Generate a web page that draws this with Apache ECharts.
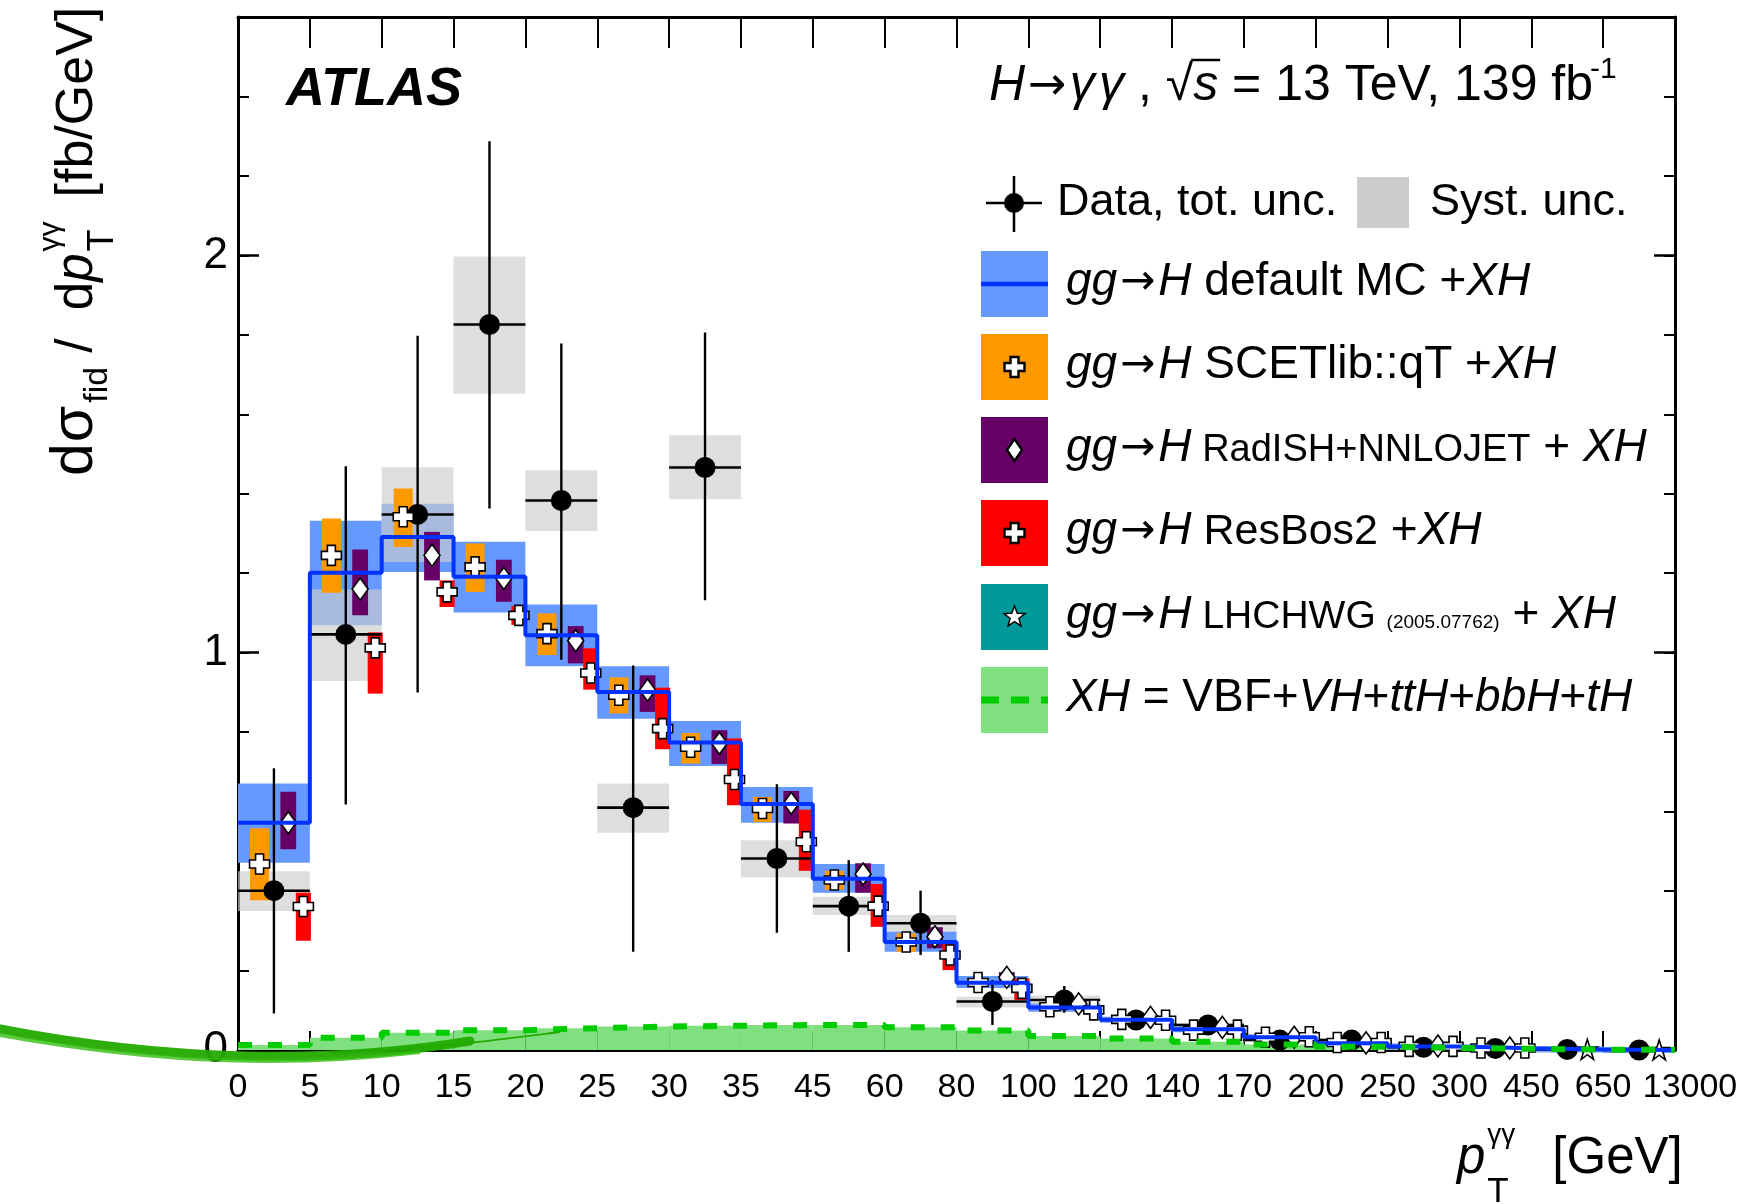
<!DOCTYPE html>
<html><head><meta charset="utf-8">
<script src="https://cdn.jsdelivr.net/npm/echarts@6/dist/echarts.min.js"></script>
<style>html,body{margin:0;padding:0;background:#fff}#c{width:1751px;height:1204px}</style>
</head><body><div id="c"></div>
<script>
// ---------------- data ----------------
const binEdges = ['0','5','10','15','20','25','30','35','45','60','80','100','120','140','170','200','250','300','450','650','13000'];

const dataVal   = [0.401, 1.046, 1.348, 1.826, 1.383, 0.610, 1.466, 0.482, 0.362, 0.319, 0.122, 0.126, 0.0755, 0.063, 0.025, 0.025, 0.007, 0.004, 0.0015, 0.0001];
const dataTotLo = [0.092, 0.618, 0.900, 1.363, 0.982, 0.247, 1.132, 0.295, 0.247, 0.239, 0.063, 0.094, 0.052, 0.045, 0.012, 0.013, 0.002, 0.001, 0.0004, 0.00002];
const dataTotHi = [0.709, 1.469, 1.798, 2.287, 1.778, 0.968, 1.806, 0.669, 0.478, 0.401, 0.176, 0.161, 0.099, 0.083, 0.038, 0.037, 0.012, 0.007, 0.0026, 0.0002];
const systLo    = [0.350, 0.929, 1.228, 1.652, 1.306, 0.547, 1.386, 0.434, 0.340, 0.298, 0.107, 0.115, 0.070, 0.058, 0.022, 0.022, 0.006, 0.0035, 0.0013, 0.0001];
const systHi    = [0.450, 1.159, 1.467, 1.997, 1.459, 0.671, 1.547, 0.528, 0.386, 0.340, 0.134, 0.137, 0.081, 0.068, 0.028, 0.028, 0.008, 0.0045, 0.0017, 0.0001];

const defaultMC   = [0.572, 1.201, 1.291, 1.191, 1.044, 0.901, 0.774, 0.619, 0.431, 0.272, 0.169, 0.107, 0.076, 0.052, 0.032, 0.017, 0.009, 0.0045, 0.0015, 0.0003];
const defaultLo   = [0.471, 1.069, 1.203, 1.101, 0.966, 0.834, 0.715, 0.572, 0.396, 0.247, 0.156, 0.096, 0.069, 0.047, 0.029, 0.015, 0.008, 0.004, 0.0013, 0.0002];
const defaultHi   = [0.671, 1.332, 1.375, 1.279, 1.121, 0.966, 0.828, 0.662, 0.468, 0.298, 0.186, 0.118, 0.083, 0.057, 0.035, 0.019, 0.010, 0.005, 0.0017, 0.0004];

const scetCen = [0.468, 1.245, 1.342, 1.216, 1.048, 0.893, 0.762, 0.608, 0.428, 0.272, 0.170, 0.109, 0.077, 0.050, 0.032, 0.019, 0.009, 0.005, null, null];
const scetLo  = [0.377, 1.151, 1.266, 1.153, 0.994, 0.847, 0.721, 0.574, 0.403, 0.247, 0.160, 0.102, 0.072, 0.047, 0.030, 0.018, 0.0085, 0.0047, null, null];
const scetHi  = [0.558, 1.338, 1.413, 1.275, 1.099, 0.938, 0.798, 0.637, 0.451, 0.294, 0.180, 0.116, 0.082, 0.053, 0.034, 0.020, 0.0095, 0.0053, null, null];

const radishCen = [0.572, 1.160, 1.245, 1.187, 1.030, 0.906, 0.772, 0.621, 0.443, 0.285, 0.183, 0.116, 0.082, 0.057, 0.032, 0.018, 0.010, 0.005, null, null];
const radishLo  = [0.505, 1.094, 1.182, 1.128, 0.973, 0.851, 0.720, 0.570, 0.396, 0.256, 0.170, 0.108, 0.076, 0.053, 0.030, 0.017, 0.009, 0.0045, null, null];
const radishHi  = [0.650, 1.260, 1.304, 1.234, 1.067, 0.943, 0.805, 0.652, 0.470, 0.309, 0.196, 0.124, 0.088, 0.061, 0.034, 0.019, 0.011, 0.0055, null, null];

const resbosCen = [0.361, 1.012, 1.153, 1.094, 0.949, 0.809, 0.681, 0.524, 0.362, 0.239, 0.155, 0.101, 0.075, 0.050, 0.0335, 0.019, 0.009, 0.005, null, null];
const resbosLo  = [0.275, 0.897, 1.115, 1.070, 0.907, 0.757, 0.616, 0.451, 0.310, 0.201, 0.126, 0.092, 0.068, 0.045, 0.030, 0.017, 0.008, 0.0045, null, null];
const resbosHi  = [0.396, 1.051, 1.182, 1.118, 1.011, 0.912, 0.784, 0.605, 0.418, 0.272, 0.180, 0.110, 0.082, 0.055, 0.037, 0.021, 0.010, 0.0055, null, null];

const lhchwgCen = [null, null, null, null, null, null, null, null, null, null, null, null, null, null, null, null, null, null, 0.0015, 0.0002];
const lhchwgLo  = [null, null, null, null, null, null, null, null, null, null, null, null, null, null, null, null, null, null, 0.0013, 0.0001];
const lhchwgHi  = [null, null, null, null, null, null, null, null, null, null, null, null, null, null, null, null, null, null, 0.0017, 0.0003];

const xhVal = [0.0126, 0.031, 0.0436, 0.050, 0.055, 0.059, 0.061, 0.063, 0.063, 0.057, 0.049, 0.035, 0.029, 0.021, 0.014, 0.008, 0.005, 0.003, 0.001, 0.0002];

// ---------------- styling helpers ----------------
const FF = "'Liberation Sans', Arial, Helvetica, sans-serif";
const FA = "'DejaVu Sans', sans-serif";
const C_BAND = '#6699ff', C_LINE = '#0033ff', C_ORA = '#ff9900', C_PUR = '#660066',
      C_RED = '#ff0000', C_TEAL = '#009999', C_GFILL = '#80e080', C_GLINE = '#00cc00';
const CROSS = 'path://M-2,-5L2,-5L2,-2L5,-2L5,2L2,2L2,5L-2,5L-2,2L-5,2L-5,-2L-2,-2Z';
const DIAM = 'path://M0,-1L0.7,0L0,1L-0.7,0Z';
const STAR = 'path://M0,-1L0.2245,-0.309L0.951,-0.309L0.363,0.118L0.588,0.809L0,0.382L-0.588,0.809L-0.363,0.118L-0.951,-0.309L-0.2245,-0.309Z';

function triples(lo, hi) {
  const out = [];
  lo.forEach((l, i) => { if (l != null && hi[i] != null) out.push([i, l, hi[i]]); });
  return out;
}
function boxSeries(name, lo, hi, off, w, color, minH) {
  return {
    type: 'custom', name, silent: true, data: triples(lo, hi), encode: { x: 0, y: [1, 2] },
    renderItem(params, api) {
      const i = api.value(0), l = api.value(1), h = api.value(2);
      const a = api.coord([i + off - w / 2, h]), b = api.coord([i + off + w / 2, l]);
      let top = a[1], hh = b[1] - a[1];
      const mh = minH || 0;
      if (hh < mh) { const m = (a[1] + b[1]) / 2; top = m - mh / 2; hh = mh; }
      return { type: 'rect', shape: { x: a[0], y: top, width: b[0] - a[0], height: hh }, style: { fill: color } };
    }
  };
}
function markerSeries(name, cen, off, symbol, size) {
  const d = [];
  cen.forEach((v, i) => { if (v != null) d.push([i + off, v]); });
  return {
    type: 'scatter', name, silent: true, data: d, symbol, symbolSize: size,
    itemStyle: { color: '#ffffff', borderColor: '#000', borderWidth: 1.6, opacity: 1 }
  };
}
function stepData(vals) {
  const d = [];
  vals.forEach((v, i) => { d.push([i, v]); d.push([i + 1, v]); });
  return d;
}

// ---------------- text layout helpers ----------------
const mctx = document.createElement('canvas').getContext('2d');
function fnt(p) { return (p.it ? 'italic ' : '') + (p.b ? 'bold ' : '') + p.s + 'px ' + (p.f || FF); }
function run(pieces) {
  let x = 0; const ch = [];
  for (const p of pieces) {
    mctx.font = fnt(p); mctx.textBaseline = 'middle';
    const w = mctx.measureText(p.t).width;
    mctx.font = (p.s) + 'px ' + FF;
    const off = mctx.measureText('H').actualBoundingBoxDescent;
    const xx = x + (p.dx || 0);
    ch.push({ type: 'text', x: xx, y: (p.dy || 0) - off, silent: true,
      style: { text: p.t, font: fnt(p), fill: '#000', textAlign: 'left', verticalAlign: 'middle', textVerticalAlign: 'middle' } });
    if (p.over) {
      const capTop = (p.dy || 0) - p.s * 0.8;
      ch.push({ type: 'line', silent: true, shape: { x1: xx - 2, y1: capTop, x2: xx + w + 2, y2: capTop }, style: { stroke: '#000', lineWidth: 2.5 } });
    }
    if (!p.noadv) x = xx + w;
  }
  return ch;
}
function textGroup(pieces, x, y, rot) {
  return { type: 'group', x, y, rotation: rot || 0, silent: true, children: run(pieces) };
}
function crossPts(cx, cy, s) {
  const h = s / 2, a = s * 0.2;
  return [[-a,-h],[a,-h],[a,-a],[h,-a],[h,a],[a,a],[a,h],[-a,h],[-a,a],[-h,a],[-h,-a],[-a,-a]].map(p => [cx + p[0], cy + p[1]]);
}
function diamPts(cx, cy, w, h) { return [[cx, cy - h / 2], [cx + w / 2, cy], [cx, cy + h / 2], [cx - w / 2, cy]]; }
function starPts(cx, cy, r) {
  const pts = [];
  for (let k = 0; k < 10; k++) {
    const ang = -Math.PI / 2 + k * Math.PI / 5, rr = k % 2 ? r * 0.42 : r;
    pts.push([cx + rr * Math.cos(ang), cy + rr * Math.sin(ang)]);
  }
  return pts;
}
const mk = { fill: '#fff', stroke: '#000', lineWidth: 2.4 };

// ---------------- legend & labels (graphic) ----------------
const G = [];
G.push(textGroup([{ t: 'ATLAS', it: 1, b: 1, s: 54 }], 286, 105));
G.push(textGroup([
  { t: 'H', it: 1, s: 50 }, { t: '\u2192', s: 46, f: FA, dx: 3 }, { t: '\u03b3', it: 1, s: 50, dx: 3 }, { t: ' ', s: 16 }, { t: '\u03b3', it: 1, s: 50 },
  { t: ' , ', s: 50 }, { t: '\u221a', s: 50 }, { t: 's', it: 1, s: 50, over: 1 }, { t: ' = 13 TeV, 139 fb', s: 50 },
  { t: '-1', s: 30, dy: -22, dx: -3 }
], 989, 100));
// data legend
const LX = 1014;
G.push({ type: 'line', silent: true, shape: { x1: LX, y1: 176, x2: LX, y2: 232 }, style: { stroke: '#000', lineWidth: 2.5 } });
G.push({ type: 'line', silent: true, shape: { x1: 986, y1: 203, x2: 1042, y2: 203 }, style: { stroke: '#000', lineWidth: 2.5 } });
G.push({ type: 'circle', silent: true, shape: { cx: LX, cy: 203, r: 10 }, style: { fill: '#000' } });
G.push(textGroup([{ t: 'Data, tot. unc.', s: 45 }], 1057, 215));
G.push({ type: 'rect', silent: true, shape: { x: 1357, y: 177, width: 52, height: 51 }, style: { fill: '#cccccc' } });
G.push(textGroup([{ t: 'Syst. unc.', s: 45 }], 1430, 215));

const rowTop = [251, 334, 417, 500, 584, 667];
const rowColors = [C_BAND, C_ORA, C_PUR, C_RED, C_TEAL, C_GFILL];
rowTop.forEach((y, k) => {
  G.push({ type: 'rect', silent: true, shape: { x: 981, y, width: 67, height: 66 }, style: { fill: rowColors[k] } });
});
const rc = rowTop.map(y => y + 33);
G.push({ type: 'line', silent: true, shape: { x1: 981, y1: rc[0], x2: 1048, y2: rc[0] }, style: { stroke: C_LINE, lineWidth: 4.5 } });
G.push({ type: 'polygon', silent: true, shape: { points: crossPts(1014.5, rc[1], 20) }, style: mk });
G.push({ type: 'polygon', silent: true, shape: { points: diamPts(1014.5, rc[2], 15, 22) }, style: mk });
G.push({ type: 'polygon', silent: true, shape: { points: crossPts(1014.5, rc[3], 20) }, style: mk });
G.push({ type: 'polygon', silent: true, shape: { points: starPts(1014.5, rc[4], 11) }, style: { fill: '#fff', stroke: '#000', lineWidth: 1.5 } });
G.push({ type: 'line', silent: true, shape: { x1: 981, y1: rc[5], x2: 1048, y2: rc[5] }, style: { stroke: C_GLINE, lineWidth: 7, lineDash: [18, 12] } });

const TX = 1066, IT = 46;
const gg = [{ t: 'gg', it: 1, s: IT }, { t: '\u2192', s: 42, f: FA, dx: 3 }, { t: 'H', it: 1, s: IT, dx: 3 }];
G.push(textGroup(gg.concat([{ t: ' default MC +', s: IT }, { t: 'XH', it: 1, s: IT }]), TX, rc[0] + 11));
G.push(textGroup(gg.concat([{ t: ' SCETlib::qT +', s: IT }, { t: 'XH', it: 1, s: IT }]), TX, rc[1] + 11));
G.push(textGroup(gg.concat([{ t: ' RadISH+NNLOJET', s: 38 }, { t: ' + ', s: IT }, { t: 'XH', it: 1, s: IT }]), TX, rc[2] + 11));
G.push(textGroup(gg.concat([{ t: ' ResBos2', s: 43 }, { t: ' +', s: IT }, { t: 'XH', it: 1, s: IT }]), TX, rc[3] + 11));
G.push(textGroup(gg.concat([{ t: ' LHCHWG ', s: 39 }, { t: '(2005.07762)', s: 19 }, { t: ' + ', s: IT }, { t: 'XH', it: 1, s: IT }]), TX, rc[4] + 11));
G.push(textGroup([{ t: 'XH', it: 1, s: IT }, { t: ' = VBF+', s: IT }, { t: 'VH', it: 1, s: IT }, { t: '+', s: IT },
  { t: 'ttH', it: 1, s: IT }, { t: '+', s: IT }, { t: 'bbH', it: 1, s: IT }, { t: '+', s: IT }, { t: 'tH', it: 1, s: IT }], TX, rc[5] + 11));

// x axis title
G.push(textGroup([{ t: 'p', it: 1, s: 51 }, { t: 'T', s: 35, dy: 29, dx: 2, noadv: 1 }, { t: '\u03b3\u03b3', s: 28, dy: -30, dx: 2 }, { t: '[GeV]', s: 51, dx: 37 }], 1457, 1173));
// y axis title (rotated)
G.push(textGroup([{ t: 'd', s: 59 }, { t: '\u03c3', s: 59, dx: 1 }, { t: 'fid', s: 34, dy: 15, dx: 3 }, { t: ' /  d', s: 51 }, { t: 'p', it: 1, s: 51 },
  { t: 'T', s: 36, dy: 21, dx: 2, noadv: 1 }, { t: '\u03b3\u03b3', s: 30, dy: -33, dx: 2 }, { t: '[fb/GeV]', s: 52, dx: 24 }], 92, 476, Math.PI / 2));

// green brush stroke artifact at bottom-left
G.push({ type: 'bezierCurve', silent: true, z: 100, shape: { x1: 0, y1: 1029, cpx1: 170, cpy1: 1062, cpx2: 330, cpy2: 1064, x2: 470, y2: 1041 },
  style: { stroke: '#22aa00', lineWidth: 9, fill: null, lineCap: 'round', opacity: 0.95 } });
G.push({ type: 'bezierCurve', silent: true, z: 100, shape: { x1: 0, y1: 1035, cpx1: 170, cpy1: 1066, cpx2: 300, cpy2: 1066, x2: 420, y2: 1052 },
  style: { stroke: '#33bb11', lineWidth: 4, fill: null, opacity: 0.8 } });
G.push({ type: 'bezierCurve', silent: true, z: 100, shape: { x1: 330, y1: 1053, cpx1: 420, cpy1: 1050, cpx2: 480, cpy2: 1042, x2: 560, y2: 1032 },
  style: { stroke: '#22aa00', lineWidth: 2, fill: null } });

// ---------------- axes ----------------
const axLine = { show: true, onZero: false, lineStyle: { color: '#000', width: 3 } };
const xTickLabel = v => {
  if (Math.abs(v - Math.round(v)) > 1e-6) return '';
  const k = Math.round(v);
  return k === binEdges.length - 1 ? '{r|' + binEdges[k] + '}' : binEdges[k];
};
const yLab = v => (Math.abs(v - Math.round(v)) < 1e-6 ? String(Math.round(v)) : '');

const option = {
  animation: false,
  backgroundColor: '#ffffff',
  grid: { left: 238, right: 76, top: 17, bottom: 154, containLabel: false },
  xAxis: [
    { type: 'value', min: 0, max: 20, interval: 1, position: 'bottom', axisLine: axLine,
      axisTick: { show: true, inside: true, length: 19, lineStyle: { color: '#000', width: 2 } },
      axisLabel: { formatter: xTickLabel, fontSize: 34, color: '#000', fontFamily: FF, margin: 21,
        rich: { r: { fontSize: 34, color: '#000', fontFamily: FF, padding: [0, 0, 0, 30] } } },
      splitLine: { show: false } },
    { type: 'value', min: 0, max: 20, interval: 1, position: 'top', axisLine: axLine,
      axisTick: { show: true, inside: true, length: 31, lineStyle: { color: '#000', width: 2 } },
      axisLabel: { show: false }, splitLine: { show: false } }
  ],
  yAxis: [
    { type: 'value', min: 0, max: 2.6, interval: 1, position: 'left', axisLine: axLine,
      axisTick: { show: true, inside: true, length: 21, lineStyle: { color: '#000', width: 2.5 } },
      axisLabel: { formatter: yLab, fontSize: 44, color: '#000', fontFamily: FF, margin: 10 }, splitLine: { show: false } },
    { type: 'value', min: 0, max: 2.6, interval: 0.2, position: 'left', offset: 0, axisLine: { show: false, onZero: false },
      axisTick: { show: true, inside: true, length: 11, lineStyle: { color: '#000', width: 2 } },
      axisLabel: { show: false }, splitLine: { show: false } },
    { type: 'value', min: 0, max: 2.6, interval: 1, position: 'right', offset: 0, axisLine: axLine,
      axisTick: { show: true, inside: true, length: 21, lineStyle: { color: '#000', width: 2.5 } },
      axisLabel: { show: false }, splitLine: { show: false } },
    { type: 'value', min: 0, max: 2.6, interval: 0.2, position: 'right', offset: 0, axisLine: { show: false, onZero: false },
      axisTick: { show: true, inside: true, length: 11, lineStyle: { color: '#000', width: 2 } },
      axisLabel: { show: false }, splitLine: { show: false } }
  ],
  series: [
    boxSeries('XH fill', xhVal.map(() => 0), xhVal, 0.5, 1, C_GFILL, 0),
    boxSeries('default MC band', defaultLo, defaultHi, 0.5, 1, C_BAND, 6),
    { type: 'line', name: 'default MC', silent: true, data: stepData(defaultMC), symbol: 'none',
      lineStyle: { color: C_LINE, width: 4 } },
    { type: 'line', name: 'XH', silent: true, data: stepData(xhVal), symbol: 'none',
      lineStyle: { color: C_GLINE, width: 6, type: [14, 16] } },
    boxSeries('Syst. unc.', systLo, systHi, 0.5, 1, 'rgba(204,204,204,0.65)', 4),
    boxSeries('SCETlib band', scetLo, scetHi, 0.30, 0.265, C_ORA, 3),
    markerSeries('SCETlib', scetCen, 0.30, CROSS, [20, 20]),
    boxSeries('RadISH band', radishLo, radishHi, 0.70, 0.22, C_PUR, 3),
    markerSeries('RadISH+NNLOJET', radishCen, 0.70, DIAM, [16, 22]),
    boxSeries('ResBos2 band', resbosLo, resbosHi, 0.91, 0.21, C_RED, 3),
    markerSeries('ResBos2', resbosCen, 0.91, CROSS, [20, 20]),
    boxSeries('LHCHWG band', lhchwgLo, lhchwgHi, 0.78, 0.2, C_TEAL, 0),
    markerSeries('LHCHWG', lhchwgCen, 0.78, STAR, [20, 20]),
    { type: 'custom', name: 'Data', silent: true,
      data: dataVal.map((v, i) => [i, v, dataTotLo[i], dataTotHi[i]]), encode: { x: 0, y: 1 },
      renderItem(params, api) {
        const i = api.value(0), v = api.value(1), lo = api.value(2), hi = api.value(3);
        const c = api.coord([i + 0.5, v]), l = api.coord([i, v]), r = api.coord([i + 1, v]);
        const t = api.coord([i + 0.5, hi]), b = api.coord([i + 0.5, lo]);
        return { type: 'group', children: [
          { type: 'line', shape: { x1: l[0], y1: c[1], x2: r[0], y2: c[1] }, style: { stroke: '#000', lineWidth: 2.6 } },
          { type: 'line', shape: { x1: c[0], y1: t[1], x2: c[0], y2: b[1] }, style: { stroke: '#000', lineWidth: 2.4 } },
          { type: 'circle', shape: { cx: c[0], cy: c[1], r: 10.5 }, style: { fill: '#000' } }
        ] };
      } }
  ],
  graphic: { elements: G }
};

const chart = echarts.init(document.getElementById('c'), null, { renderer: 'canvas' });
chart.setOption(option);
</script>
</body></html>
